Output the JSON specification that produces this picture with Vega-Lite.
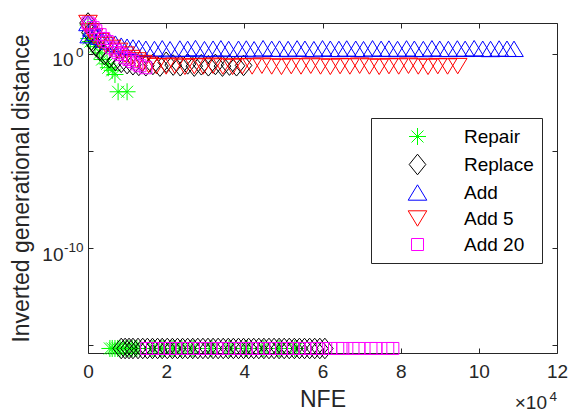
{
  "$schema": "https://vega.github.io/schema/vega-lite/v6.json",
  "width": 469,
  "height": 330,
  "autosize": {"type": "none"},
  "padding": {"left": 88, "top": 23, "right": 12, "bottom": 59},
  "background": "white",
  "config": {
    "view": {"stroke": "#262626", "strokeWidth": 1},
    "font": "Liberation Sans",
    "axis": {
      "domain": false, "grid": false, "ticks": true, "tickSize": -5,
      "tickColor": "#262626", "tickWidth": 1,
      "labelColor": "#262626", "labelFont": "Liberation Sans", "labelFontSize": 19,
      "labelFlush": false, "labelOverlap": false,
      "titleFont": "Liberation Sans", "titleFontSize": 23, "titleFontWeight": "normal", "titleColor": "#262626"
    }
  },
  "datasets": {
    "igd": [
      {"s":"Repair","x":0,"y":30},{"s":"Repair","x":0.02,"y":6},{"s":"Repair","x":0.06,"y":4.2},{"s":"Repair","x":0.18,"y":2.3},
      {"s":"Repair","x":0.3,"y":1.1},{"s":"Repair","x":0.36,"y":0.5},{"s":"Repair","x":0.49,"y":0.3},{"s":"Repair","x":0.52,"y":0.19},
      {"s":"Repair","x":0.62,"y":0.14},{"s":"Repair","x":0.69,"y":0.085},{"s":"Repair","x":0.77,"y":0.011},{"s":"Repair","x":1.0,"y":0.011},
      {"s":"Repair","x":0.56,"y":6.8e-16},{"s":"Repair","x":0.62,"y":6.8e-16},{"s":"Repair","x":0.69,"y":6.8e-16},{"s":"Repair","x":0.76,"y":6.8e-16},
      {"s":"Repair","x":0.82,"y":6.8e-16},{"s":"Repair","x":0.9,"y":6.8e-16},{"s":"Repair","x":0.97,"y":6.8e-16},{"s":"Repair","x":1.05,"y":6.8e-16},
      {"s":"Repair","x":1.13,"y":6.8e-16},{"s":"Repair","x":1.2,"y":6.8e-16},{"s":"Repair","x":1.25,"y":6.8e-16},{"s":"Repair","x":1.64,"y":6.8e-16},
      {"s":"Repair","x":1.69,"y":6.8e-16},{"s":"Repair","x":1.89,"y":6.8e-16},{"s":"Repair","x":1.94,"y":6.8e-16},{"s":"Repair","x":2.15,"y":6.8e-16},
      {"s":"Repair","x":2.2,"y":6.8e-16},{"s":"Repair","x":2.35,"y":6.8e-16},{"s":"Repair","x":2.4,"y":6.8e-16},{"s":"Repair","x":2.66,"y":6.8e-16},
      {"s":"Repair","x":2.71,"y":6.8e-16},{"s":"Repair","x":3.12,"y":6.8e-16},{"s":"Repair","x":3.17,"y":6.8e-16},{"s":"Repair","x":3.61,"y":6.8e-16},
      {"s":"Repair","x":3.66,"y":6.8e-16},{"s":"Repair","x":4.02,"y":6.8e-16},{"s":"Repair","x":4.07,"y":6.8e-16},{"s":"Repair","x":4.45,"y":6.8e-16},
      {"s":"Repair","x":4.5,"y":6.8e-16},{"s":"Repair","x":4.86,"y":6.8e-16},{"s":"Repair","x":4.91,"y":6.8e-16},{"s":"Repair","x":5.29,"y":6.8e-16},
      {"s":"Repair","x":5.34,"y":6.8e-16},

      {"s":"Replace","x":0,"y":38},{"s":"Replace","x":0.05,"y":12},{"s":"Replace","x":0.12,"y":4.2},{"s":"Replace","x":0.2,"y":2.5},
      {"s":"Replace","x":0.3,"y":1.5},{"s":"Replace","x":0.42,"y":0.9},{"s":"Replace","x":0.55,"y":0.62},{"s":"Replace","x":0.7,"y":0.45},
      {"s":"Replace","x":0.85,"y":0.36},{"s":"Replace","x":1.0,"y":0.31},{"s":"Replace","x":1.15,"y":0.27},{"s":"Replace","x":1.3,"y":0.25},
      {"s":"Replace","x":1.48,"y":0.24},{"s":"Replace","x":1.66,"y":0.28},{"s":"Replace","x":1.84,"y":0.23},{"s":"Replace","x":2.0,"y":0.36},
      {"s":"Replace","x":2.18,"y":0.26},{"s":"Replace","x":2.36,"y":0.24},{"s":"Replace","x":2.55,"y":0.3},{"s":"Replace","x":2.72,"y":0.23},
      {"s":"Replace","x":2.9,"y":0.27},{"s":"Replace","x":3.08,"y":0.24},{"s":"Replace","x":3.26,"y":0.28},{"s":"Replace","x":3.44,"y":0.23},
      {"s":"Replace","x":3.62,"y":0.26},{"s":"Replace","x":3.8,"y":0.24},{"s":"Replace","x":3.98,"y":0.25},
      {"s":"Replace","x":0.85,"y":6.8e-16},{"s":"Replace","x":0.95,"y":6.8e-16},{"s":"Replace","x":1.05,"y":6.8e-16},{"s":"Replace","x":1.15,"y":6.8e-16},
      {"s":"Replace","x":1.28,"y":6.8e-16},{"s":"Replace","x":1.4,"y":6.8e-16},{"s":"Replace","x":1.52,"y":6.8e-16},{"s":"Replace","x":1.65,"y":6.8e-16},
      {"s":"Replace","x":1.78,"y":6.8e-16},{"s":"Replace","x":1.9,"y":6.8e-16},{"s":"Replace","x":2.03,"y":6.8e-16},{"s":"Replace","x":2.16,"y":6.8e-16},
      {"s":"Replace","x":2.29,"y":6.8e-16},{"s":"Replace","x":2.42,"y":6.8e-16},{"s":"Replace","x":2.55,"y":6.8e-16},{"s":"Replace","x":2.68,"y":6.8e-16},
      {"s":"Replace","x":2.81,"y":6.8e-16},{"s":"Replace","x":2.94,"y":6.8e-16},{"s":"Replace","x":3.07,"y":6.8e-16},{"s":"Replace","x":3.2,"y":6.8e-16},
      {"s":"Replace","x":3.33,"y":6.8e-16},{"s":"Replace","x":3.46,"y":6.8e-16},{"s":"Replace","x":3.59,"y":6.8e-16},{"s":"Replace","x":3.72,"y":6.8e-16},
      {"s":"Replace","x":3.85,"y":6.8e-16},{"s":"Replace","x":3.98,"y":6.8e-16},{"s":"Replace","x":4.11,"y":6.8e-16},{"s":"Replace","x":4.24,"y":6.8e-16},
      {"s":"Replace","x":4.37,"y":6.8e-16},{"s":"Replace","x":4.5,"y":6.8e-16},{"s":"Replace","x":4.63,"y":6.8e-16},{"s":"Replace","x":4.76,"y":6.8e-16},
      {"s":"Replace","x":4.89,"y":6.8e-16},{"s":"Replace","x":5.02,"y":6.8e-16},{"s":"Replace","x":5.15,"y":6.8e-16},{"s":"Replace","x":5.28,"y":6.8e-16},
      {"s":"Replace","x":5.41,"y":6.8e-16},{"s":"Replace","x":5.54,"y":6.8e-16},{"s":"Replace","x":5.67,"y":6.8e-16},{"s":"Replace","x":5.8,"y":6.8e-16},
      {"s":"Replace","x":5.93,"y":6.8e-16},{"s":"Replace","x":6.06,"y":6.8e-16},

      {"s":"Add","x":0,"y":38},{"s":"Add","x":0.03,"y":9},{"s":"Add","x":0.1,"y":20},{"s":"Add","x":0.2,"y":12},
      {"s":"Add","x":0.3,"y":7.5},{"s":"Add","x":0.42,"y":5.3},{"s":"Add","x":0.55,"y":4.2},{"s":"Add","x":0.7,"y":3.3},
      {"s":"Add","x":0.85,"y":2.6},{"s":"Add","x":1.0,"y":2.3},{"s":"Add","x":1.15,"y":2.1},{"s":"Add","x":1.3,"y":1.95},
      {"s":"Add","x":1.48,"y":1.8},{"s":"Add","x":1.7,"y":1.75},{"s":"Add","x":1.9,"y":1.9},{"s":"Add","x":2.1,"y":1.7},
      {"s":"Add","x":2.35,"y":1.85},{"s":"Add","x":2.55,"y":1.78},{"s":"Add","x":2.75,"y":1.95},{"s":"Add","x":2.98,"y":1.72},
      {"s":"Add","x":3.2,"y":1.82},{"s":"Add","x":3.4,"y":1.9},{"s":"Add","x":3.6,"y":1.75},{"s":"Add","x":3.85,"y":1.8},
      {"s":"Add","x":4.05,"y":1.85},{"s":"Add","x":4.25,"y":1.7},{"s":"Add","x":4.48,"y":1.92},{"s":"Add","x":4.7,"y":1.78},
      {"s":"Add","x":4.9,"y":1.83},{"s":"Add","x":5.12,"y":1.75},{"s":"Add","x":5.35,"y":1.88},{"s":"Add","x":5.55,"y":1.8},
      {"s":"Add","x":5.78,"y":1.72},{"s":"Add","x":6.0,"y":1.9},{"s":"Add","x":6.2,"y":1.8},{"s":"Add","x":6.42,"y":1.76},
      {"s":"Add","x":6.62,"y":1.86},{"s":"Add","x":6.85,"y":1.8},{"s":"Add","x":7.05,"y":1.72},{"s":"Add","x":7.28,"y":1.9},
      {"s":"Add","x":7.5,"y":1.78},{"s":"Add","x":7.7,"y":1.84},{"s":"Add","x":7.92,"y":1.75},{"s":"Add","x":8.15,"y":1.88},
      {"s":"Add","x":8.35,"y":1.8},{"s":"Add","x":8.58,"y":1.74},{"s":"Add","x":8.8,"y":1.9},{"s":"Add","x":9.0,"y":1.8},
      {"s":"Add","x":9.22,"y":1.76},{"s":"Add","x":9.45,"y":1.86},{"s":"Add","x":9.65,"y":1.78},{"s":"Add","x":9.88,"y":1.92},
      {"s":"Add","x":10.1,"y":1.8},{"s":"Add","x":10.3,"y":1.75},{"s":"Add","x":10.52,"y":1.85},{"s":"Add","x":10.72,"y":1.8},
      {"s":"Add","x":10.9,"y":1.78},

      {"s":"Add 5","x":0,"y":38},{"s":"Add 5","x":0.05,"y":14},{"s":"Add 5","x":0.15,"y":8},{"s":"Add 5","x":0.3,"y":4.5},
      {"s":"Add 5","x":0.45,"y":2.8},{"s":"Add 5","x":0.6,"y":2.0},{"s":"Add 5","x":0.78,"y":1.4},{"s":"Add 5","x":0.95,"y":0.9},
      {"s":"Add 5","x":1.1,"y":0.6},{"s":"Add 5","x":1.25,"y":0.45},{"s":"Add 5","x":1.4,"y":0.33},{"s":"Add 5","x":1.55,"y":0.27},
      {"s":"Add 5","x":1.75,"y":0.23},{"s":"Add 5","x":2.0,"y":0.22},{"s":"Add 5","x":2.22,"y":0.24},{"s":"Add 5","x":2.48,"y":0.21},
      {"s":"Add 5","x":2.72,"y":0.23},{"s":"Add 5","x":2.95,"y":0.22},{"s":"Add 5","x":3.2,"y":0.24},{"s":"Add 5","x":3.45,"y":0.22},
      {"s":"Add 5","x":3.7,"y":0.21},{"s":"Add 5","x":3.95,"y":0.23},{"s":"Add 5","x":4.2,"y":0.22},{"s":"Add 5","x":4.45,"y":0.24},
      {"s":"Add 5","x":4.7,"y":0.22},{"s":"Add 5","x":4.95,"y":0.21},{"s":"Add 5","x":5.2,"y":0.23},{"s":"Add 5","x":5.45,"y":0.22},
      {"s":"Add 5","x":5.7,"y":0.24},{"s":"Add 5","x":5.95,"y":0.22},{"s":"Add 5","x":6.2,"y":0.21},{"s":"Add 5","x":6.45,"y":0.23},
      {"s":"Add 5","x":6.7,"y":0.22},{"s":"Add 5","x":6.95,"y":0.24},{"s":"Add 5","x":7.2,"y":0.22},{"s":"Add 5","x":7.45,"y":0.21},
      {"s":"Add 5","x":7.7,"y":0.23},{"s":"Add 5","x":7.95,"y":0.22},{"s":"Add 5","x":8.2,"y":0.24},{"s":"Add 5","x":8.45,"y":0.22},
      {"s":"Add 5","x":8.7,"y":0.21},{"s":"Add 5","x":8.95,"y":0.23},{"s":"Add 5","x":9.2,"y":0.22},{"s":"Add 5","x":9.46,"y":0.23},

      {"s":"Add 20","x":0,"y":38},{"s":"Add 20","x":0.05,"y":30},{"s":"Add 20","x":0.13,"y":22},{"s":"Add 20","x":0.2,"y":15},
      {"s":"Add 20","x":0.31,"y":9.5},{"s":"Add 20","x":0.4,"y":6},{"s":"Add 20","x":0.49,"y":4.2},{"s":"Add 20","x":0.61,"y":2.0},
      {"s":"Add 20","x":0.7,"y":1.5},{"s":"Add 20","x":0.77,"y":1.13},{"s":"Add 20","x":0.85,"y":0.9},{"s":"Add 20","x":0.95,"y":0.62},
      {"s":"Add 20","x":1.05,"y":0.5},{"s":"Add 20","x":1.15,"y":0.39},{"s":"Add 20","x":1.25,"y":0.3},{"s":"Add 20","x":1.33,"y":0.24},
      {"s":"Add 20","x":1.48,"y":0.19},
      {"s":"Add 20","x":1.5,"y":6.8e-16},{"s":"Add 20","x":1.65,"y":6.8e-16},{"s":"Add 20","x":1.8,"y":6.8e-16},{"s":"Add 20","x":1.95,"y":6.8e-16},
      {"s":"Add 20","x":2.1,"y":6.8e-16},{"s":"Add 20","x":2.25,"y":6.8e-16},{"s":"Add 20","x":2.4,"y":6.8e-16},{"s":"Add 20","x":2.55,"y":6.8e-16},
      {"s":"Add 20","x":2.7,"y":6.8e-16},{"s":"Add 20","x":2.85,"y":6.8e-16},{"s":"Add 20","x":3.0,"y":6.8e-16},{"s":"Add 20","x":3.15,"y":6.8e-16},
      {"s":"Add 20","x":3.3,"y":6.8e-16},{"s":"Add 20","x":3.45,"y":6.8e-16},{"s":"Add 20","x":3.6,"y":6.8e-16},{"s":"Add 20","x":3.75,"y":6.8e-16},
      {"s":"Add 20","x":3.9,"y":6.8e-16},{"s":"Add 20","x":4.05,"y":6.8e-16},{"s":"Add 20","x":4.2,"y":6.8e-16},{"s":"Add 20","x":4.35,"y":6.8e-16},
      {"s":"Add 20","x":4.5,"y":6.8e-16},{"s":"Add 20","x":4.65,"y":6.8e-16},{"s":"Add 20","x":4.8,"y":6.8e-16},{"s":"Add 20","x":4.95,"y":6.8e-16},
      {"s":"Add 20","x":5.1,"y":6.8e-16},{"s":"Add 20","x":5.25,"y":6.8e-16},{"s":"Add 20","x":5.4,"y":6.8e-16},{"s":"Add 20","x":5.55,"y":6.8e-16},
      {"s":"Add 20","x":5.7,"y":6.8e-16},{"s":"Add 20","x":5.85,"y":6.8e-16},{"s":"Add 20","x":6.0,"y":6.8e-16},{"s":"Add 20","x":6.21,"y":6.8e-16},
      {"s":"Add 20","x":6.39,"y":6.8e-16},{"s":"Add 20","x":6.52,"y":6.8e-16},{"s":"Add 20","x":6.78,"y":6.8e-16},{"s":"Add 20","x":6.93,"y":6.8e-16},
      {"s":"Add 20","x":7.24,"y":6.8e-16},{"s":"Add 20","x":7.37,"y":6.8e-16},{"s":"Add 20","x":7.67,"y":6.8e-16},{"s":"Add 20","x":7.8,"y":6.8e-16}
    ]
  },
  "layer": [
    {
      "data": {"name": "igd"},
      "mark": {"type": "point", "filled": false, "strokeWidth": 1, "size": 400, "opacity": 1, "clip": false},
      "encoding": {
        "x": {
          "field": "x", "type": "quantitative",
          "scale": {"domain": [0, 12], "nice": false, "zero": false},
          "axis": {
            "orient": "bottom", "values": [0, 2, 4, 6, 8, 10, 12], "format": "d",
            "labelPadding": 14, "labelBaseline": "top",
            "title": "NFE", "titleY": 53, "titleBaseline": "alphabetic"
          }
        },
        "y": {
          "field": "y", "type": "quantitative",
          "scale": {"type": "log", "domain": [3.98e-16, 38], "nice": false},
          "axis": {
            "orient": "left", "values": [1, 1e-5, 1e-10, 1e-15],
            "labelExpr": "datum.value > 0.5 || (datum.value > 1e-11 && datum.value < 1e-9) ? '10' : ''",
            "labelBaseline": "alphabetic", "labelOffset": 12, "labelAlign": "right",
            "labelPadding": {"condition": {"test": "datum.value < 0.5", "value": 30}, "value": 20},
            "title": "Inverted generational distance", "titleX": -60, "titleY": 165,
            "titleBaseline": "alphabetic", "titleAngle": -90, "titleAlign": "center"
          }
        },
        "color": {
          "field": "s", "type": "nominal",
          "scale": {
            "domain": ["Repair", "Replace", "Add", "Add 5", "Add 20"],
            "range": ["#00ff00", "#000000", "#0000ff", "#ff0000", "#ff00ff"]
          },
          "legend": {
            "orient": "none", "legendX": 283, "legendY": 95, "title": null,
            "strokeColor": "#262626", "fillColor": "white", "padding": 8,
            "symbolSize": 400, "symbolStrokeWidth": 1, "symbolOffset": 28, "labelOffset": 36,
            "rowPadding": 5, "labelFontSize": 19, "labelFont": "Liberation Sans", "labelColor": "black"
          }
        },
        "shape": {
          "field": "s", "type": "nominal",
          "scale": {
            "domain": ["Repair", "Replace", "Add", "Add 5", "Add 20"],
            "range": [
              "M-0.85,0L0.85,0M0,-0.85L0,0.85M-0.6,-0.6L0.6,0.6M-0.6,0.6L0.6,-0.6",
              "M0,-1.03L0.83,0L0,1.03L-0.83,0Z",
              "M0,-0.77L0.93,0.77L-0.93,0.77Z",
              "M0,0.77L0.93,-0.77L-0.93,-0.77Z",
              "M-0.6,-0.6L0.6,-0.6L0.6,0.6L-0.6,0.6Z"
            ]
          },
          "legend": {
            "orient": "none", "legendX": 283, "legendY": 95, "title": null,
            "strokeColor": "#262626", "fillColor": "white", "padding": 8,
            "symbolSize": 400, "symbolStrokeWidth": 1, "symbolOffset": 28, "labelOffset": 36,
            "rowPadding": 5, "labelFontSize": 19, "labelFont": "Liberation Sans", "labelColor": "black"
          }
        }
      }
    },
    {
      "data": {"values": [{}]},
      "mark": {"type": "text", "text": "×10", "align": "right", "baseline": "alphabetic", "dx": -10, "dy": 56, "fontSize": 19, "font": "Liberation Sans", "color": "#262626", "clip": false},
      "encoding": {
        "x": {
          "datum": 12, "type": "quantitative",
          "axis": {"orient": "top", "values": [0, 2, 4, 6, 8, 10, 12], "labels": false, "title": null}
        },
        "y": {
          "datum": 3.98e-16, "type": "quantitative",
          "axis": {"orient": "right", "values": [1, 1e-5, 1e-10, 1e-15], "labels": false, "title": null}
        }
      }
    },
    {
      "data": {"values": [{}]},
      "mark": {"type": "text", "text": "4", "align": "right", "baseline": "alphabetic", "dy": 48, "fontSize": 13.5, "font": "Liberation Sans", "color": "#262626", "clip": false},
      "encoding": {
        "x": {"datum": 12, "type": "quantitative", "axis": null},
        "y": {
          "datum": 3.98e-16, "type": "quantitative",
          "axis": {
            "orient": "left", "values": [1, 1e-10], "ticks": false,
            "labelExpr": "datum.value > 0.5 ? '0' : '-10'",
            "labelFontSize": 13.5, "labelBaseline": "alphabetic", "labelOffset": 3,
            "labelPadding": 5, "labelAlign": "right", "title": null
          }
        }
      }
    }
  ],
  "resolve": {"axis": {"x": "independent", "y": "independent"}}
}
